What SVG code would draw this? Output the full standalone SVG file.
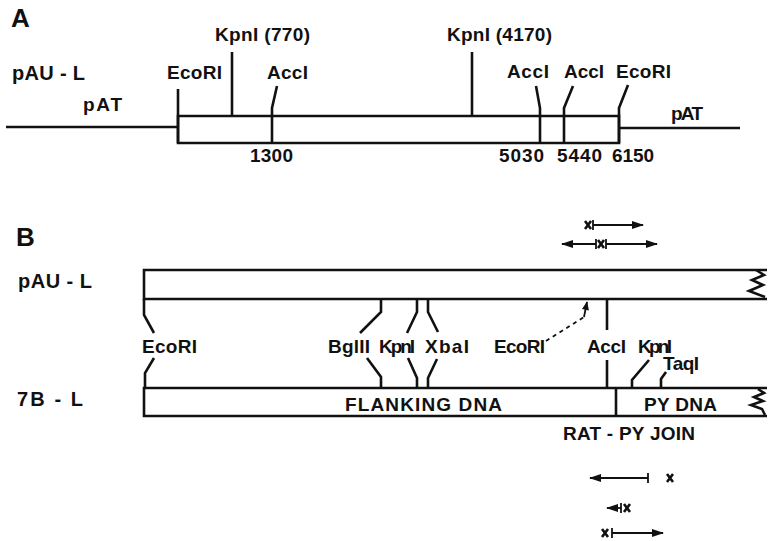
<svg xmlns="http://www.w3.org/2000/svg" width="768" height="541" viewBox="0 0 768 541">
<style>
.t{font-family:"Liberation Sans",Arial,Helvetica,sans-serif;font-weight:bold;font-size:19px;fill:#111}
.big{font-size:26px}
.nm{font-size:20px}
.ln{fill:none;stroke:#111;stroke-width:2.6;stroke-linejoin:miter}
.th{fill:none;stroke:#111;stroke-width:1.8}
.xm{fill:none;stroke:#111;stroke-width:2.6}
.da{fill:none;stroke:#111;stroke-width:1.8;stroke-dasharray:4 4}
</style>
<defs>
<marker id="ah" viewBox="0 0 12 8" refX="11" refY="4" markerWidth="12" markerHeight="8" markerUnits="userSpaceOnUse" orient="auto">
<path d="M0,0 L12,4 L0,8 Z" fill="#111"/>
</marker>
<marker id="ahs" viewBox="0 0 10 8" refX="9" refY="4" markerWidth="10" markerHeight="7" markerUnits="userSpaceOnUse" orient="auto">
<path d="M0,0 L10,4 L0,8 Z" fill="#111"/>
</marker>
</defs>

<!-- Panel A -->
<g id="panelA-title"><text class="t big" x="11" y="27">A</text></g>
<g id="A-pAU-L-label"><text class="t nm" x="12" y="80" textLength="73" lengthAdjust="spacing">pAU - L</text></g>
<g id="A-pAT-left">
<line class="ln" x1="6" y1="127" x2="178" y2="127"/>
<text class="t" x="83" y="111" textLength="39" lengthAdjust="spacing">pAT</text>
</g>
<g id="A-pAT-right">
<line class="ln" x1="619" y1="128" x2="740" y2="128"/>
<text class="t" x="671" y="120" textLength="32" lengthAdjust="spacing">pAT</text>
</g>
<g id="A-insert">
<path class="ln" d="M178,116 H619 V143 H178 Z"/>
</g>
<g id="A-EcoRI-left">
<line class="ln" x1="178" y1="89" x2="178" y2="143"/>
<text class="t" x="167" y="79" textLength="55" lengthAdjust="spacing">EcoRI</text>
</g>
<g id="A-KpnI-770">
<line class="ln" x1="232" y1="52" x2="232" y2="116"/>
<text class="t" x="215" y="41" textLength="95" lengthAdjust="spacing">KpnI (770)</text>
</g>
<g id="A-AccI-1300">
<path class="ln" d="M277,86 L272,108 V143"/>
<text class="t" x="267" y="79" textLength="41" lengthAdjust="spacing">AccI</text>
<text class="t" x="250" y="162" textLength="43" lengthAdjust="spacing">1300</text>
</g>
<g id="A-KpnI-4170">
<line class="ln" x1="472" y1="52" x2="472" y2="116"/>
<text class="t" x="447" y="41" textLength="105" lengthAdjust="spacing">KpnI (4170)</text>
</g>
<g id="A-AccI-5030">
<path class="ln" d="M536,86 L540,108 V143"/>
<text class="t" x="507" y="78" textLength="42" lengthAdjust="spacing">AccI</text>
<text class="t" x="499" y="162" textLength="45" lengthAdjust="spacing">5030</text>
</g>
<g id="A-AccI-5440">
<path class="ln" d="M573,86 L564,108 V143"/>
<text class="t" x="564" y="78" textLength="40" lengthAdjust="spacing">AccI</text>
<text class="t" x="557" y="162" textLength="45" lengthAdjust="spacing">5440</text>
</g>
<g id="A-EcoRI-6150">
<path class="ln" d="M628,85 L619,108 V143"/>
<text class="t" x="616" y="78" textLength="55" lengthAdjust="spacing">EcoRI</text>
<text class="t" x="612" y="162" textLength="42" lengthAdjust="spacing">6150</text>
</g>

<!-- Panel B -->
<g id="panelB-title"><text class="t big" x="16" y="246">B</text></g>
<g id="B-pAU-L">
<text class="t nm" x="18" y="288" textLength="74" lengthAdjust="spacing">pAU - L</text>
<path class="ln" d="M767,270 H144 V299 H767"/>
<polyline class="ln" points="756,270 764,275 752,280 763,285 749,291 765,297"/>
</g>
<g id="B-7B-L">
<text class="t nm" x="17" y="406" textLength="66" lengthAdjust="spacing">7B - L</text>
<path class="ln" d="M767,388 H144 V416 H767"/>
<line class="ln" x1="616" y1="388" x2="616" y2="416"/>
<polyline class="ln" points="758,389 764,393 754,397 763,401 751,405 762,409 765,415"/>
<text class="t" x="345" y="411" textLength="157" lengthAdjust="spacing">FLANKING DNA</text>
<text class="t" x="644" y="411" textLength="73" lengthAdjust="spacing">PY DNA</text>
<text class="t" x="563" y="440" textLength="132" lengthAdjust="spacing">RAT - PY JOIN</text>
</g>
<g id="B-EcoRI-left">
<path class="ln" d="M144,299 V315 L154,333"/>
<path class="ln" d="M154,358 L145,373 V388"/>
<text class="t" x="142" y="353" textLength="55" lengthAdjust="spacing">EcoRI</text>
</g>
<g id="B-BglII">
<path class="ln" d="M381,299 V312 L360,333"/>
<path class="ln" d="M367,358 L381,377 V388"/>
<text class="t" x="328" y="353" textLength="42" lengthAdjust="spacing">BglII</text>
</g>
<g id="B-KpnI-1">
<path class="ln" d="M417,299 V312 L407,333"/>
<path class="ln" d="M408,358 L417,378 V388"/>
<text class="t" x="379" y="353" textLength="36" lengthAdjust="spacing">KpnI</text>
</g>
<g id="B-XbaI">
<path class="ln" d="M428,299 V312 L438,332"/>
<path class="ln" d="M437,359 L428,378 V388"/>
<text class="t" x="425" y="353" textLength="44" lengthAdjust="spacing">XbaI</text>
</g>
<g id="B-EcoRI-mid">
<text class="t" x="494" y="353" textLength="51" lengthAdjust="spacing">EcoRI</text>
</g>
<g id="B-AccI">
<line class="ln" x1="607" y1="299" x2="607" y2="330"/>
<line class="ln" x1="607" y1="360" x2="607" y2="388"/>
<text class="t" x="587" y="353" textLength="39" lengthAdjust="spacing">AccI</text>
</g>
<g id="B-KpnI-2">
<path class="ln" d="M649,360 L632,380 V388"/>
<text class="t" x="638" y="353" textLength="34" lengthAdjust="spacing">KpnI</text>
</g>
<g id="B-TaqI">
<path class="ln" d="M666,372 L661,379 V388"/>
<text class="t" x="663" y="370" textLength="36" lengthAdjust="spacing">TaqI</text>
</g>

<g id="connectors">
<path class="da" d="M546,341 L584,317"/>
<path class="th" d="M584,317 L587,302" marker-end="url(#ahs)"/>
<g id="B-top-arrow-1">
<path class="xm" d="M585,221 L591,229 M591,221 L585,229"/>
<line class="th" x1="593" y1="220" x2="593" y2="230"/>
<line class="th" x1="593" y1="225" x2="643" y2="225" marker-end="url(#ah)"/>
</g>
<g id="B-top-arrow-2">
<line class="th" x1="596" y1="244" x2="562" y2="244" marker-end="url(#ah)"/>
<line class="th" x1="596" y1="239" x2="596" y2="249"/>
<path class="xm" d="M598,240 L604,248 M604,240 L598,248"/>
<line class="th" x1="606" y1="239" x2="606" y2="249"/>
<line class="th" x1="606" y1="244" x2="657" y2="244" marker-end="url(#ah)"/>
</g>
<g id="B-bottom-arrow-1">
<line class="th" x1="648" y1="478" x2="590" y2="478" marker-end="url(#ah)"/>
<line class="th" x1="648" y1="473" x2="648" y2="483"/>
<path class="xm" d="M667,474 L673,482 M673,474 L667,482"/>
</g>
<g id="B-bottom-arrow-2">
<line class="th" x1="621" y1="508" x2="607" y2="508" marker-end="url(#ah)"/>
<line class="th" x1="621" y1="503" x2="621" y2="513"/>
<path class="xm" d="M624,504 L630,512 M630,504 L624,512"/>
</g>
<g id="B-bottom-arrow-3">
<path class="xm" d="M602,529 L608,537 M608,529 L602,537"/>
<line class="th" x1="612" y1="528" x2="612" y2="538"/>
<line class="th" x1="612" y1="533" x2="663" y2="533" marker-end="url(#ah)"/>
</g>
</g>
</svg>
